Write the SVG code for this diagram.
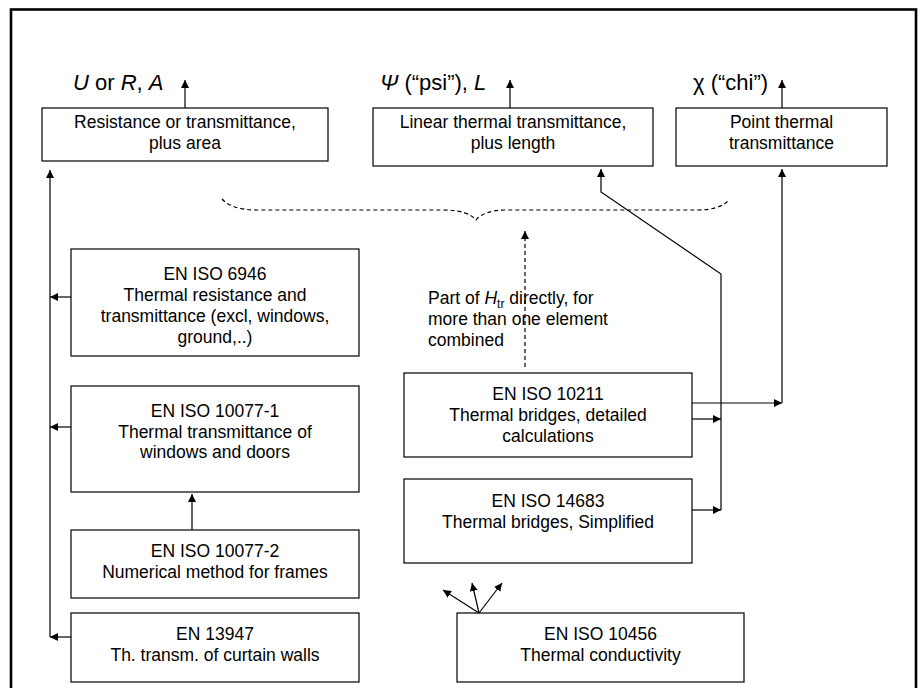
<svg xmlns="http://www.w3.org/2000/svg" width="922" height="688" viewBox="0 0 922 688">
<style>
.box{fill:#fff;stroke:#000;stroke-width:1.2}
.t{font-family:"Liberation Sans",Arial,sans-serif;font-size:17.5px;fill:#000;text-anchor:middle}
.lab{font-family:"Liberation Sans",Arial,sans-serif;font-size:22px;fill:#000}
.c{fill:none;stroke:#000;stroke-width:1.2}
.d{fill:none;stroke:#000;stroke-width:1.2;stroke-dasharray:4 3}
</style>
<defs>
<marker id="ah" markerUnits="userSpaceOnUse" markerWidth="10" markerHeight="8" refX="8" refY="4" orient="auto">
<path d="M0,0 L8,4 L0,8 Z" fill="#000"/>
</marker>
</defs>
<rect x="11" y="9.5" width="905" height="700" fill="#fff" stroke="#000" stroke-width="2.6"/>

<g id="labels">
<text class="lab" x="73" y="90"><tspan font-style="italic">U</tspan> or <tspan font-style="italic">R</tspan>, <tspan font-style="italic">A</tspan></text>
<text class="lab" x="380" y="90"><tspan font-style="italic">Ψ</tspan> (“psi”), <tspan font-style="italic">L</tspan></text>
<text class="lab" x="693" y="90">χ (“chi”)</text>
</g>

<g id="n_resistance">
<rect class="box" x="42" y="108" width="286" height="53"/>
<text class="t" x="185" y="128">Resistance or transmittance,</text>
<text class="t" x="185" y="149">plus area</text>
</g>
<g id="n_linear">
<rect class="box" x="373" y="108" width="280" height="58"/>
<text class="t" x="513" y="128">Linear thermal transmittance,</text>
<text class="t" x="513" y="149">plus length</text>
</g>
<g id="n_point">
<rect class="box" x="676" y="108" width="211" height="58"/>
<text class="t" x="781.5" y="128">Point thermal</text>
<text class="t" x="781.5" y="149">transmittance</text>
</g>

<g id="n_6946">
<rect class="box" x="71" y="249" width="288" height="107"/>
<text class="t" x="215" y="280">EN ISO 6946</text>
<text class="t" x="215" y="301">Thermal resistance and</text>
<text class="t" x="215" y="322">transmittance (excl, windows,</text>
<text class="t" x="215" y="343">ground,..)</text>
</g>
<g id="n_10077_1">
<rect class="box" x="71" y="386" width="288" height="106"/>
<text class="t" x="215" y="417">EN ISO 10077-1</text>
<text class="t" x="215" y="437.5">Thermal transmittance of</text>
<text class="t" x="215" y="458">windows and doors</text>
</g>
<g id="n_10077_2">
<rect class="box" x="71" y="530" width="288" height="68"/>
<text class="t" x="215" y="557">EN ISO 10077-2</text>
<text class="t" x="215" y="578">Numerical method for frames</text>
</g>
<g id="n_13947">
<rect class="box" x="71" y="613" width="288" height="69"/>
<text class="t" x="215" y="640">EN 13947</text>
<text class="t" x="215" y="661">Th. transm. of curtain walls</text>
</g>

<g id="n_10211">
<rect class="box" x="404" y="373" width="288" height="84"/>
<text class="t" x="548" y="400">EN ISO 10211</text>
<text class="t" x="548" y="421">Thermal bridges, detailed</text>
<text class="t" x="548" y="442">calculations</text>
</g>
<g id="n_14683">
<rect class="box" x="404" y="479" width="288" height="84"/>
<text class="t" x="548" y="507">EN ISO 14683</text>
<text class="t" x="548" y="528">Thermal bridges, Simplified</text>
</g>
<g id="n_10456">
<rect class="box" x="457" y="613" width="287" height="69"/>
<text class="t" x="600.5" y="640">EN ISO 10456</text>
<text class="t" x="600.5" y="661">Thermal conductivity</text>
</g>

<g id="note">
<text class="t" style="text-anchor:start" x="428" y="304">Part of <tspan font-style="italic">H</tspan><tspan font-size="12" dy="4">tr</tspan><tspan dy="-4"> directly, for</tspan></text>
<text class="t" style="text-anchor:start" x="428" y="325">more than one element</text>
<text class="t" style="text-anchor:start" x="428" y="345.5">combined</text>
</g>

<g id="connectors">
<line class="c" x1="185" y1="108" x2="185" y2="80" marker-end="url(#ah)"/>
<line class="c" x1="510" y1="108" x2="510" y2="80" marker-end="url(#ah)"/>
<line class="c" x1="782" y1="108" x2="782" y2="80" marker-end="url(#ah)"/>
<line class="c" x1="50" y1="637" x2="50" y2="170" marker-end="url(#ah)"/>
<line class="c" x1="71" y1="297" x2="50" y2="297" marker-end="url(#ah)"/>
<line class="c" x1="71" y1="427" x2="50" y2="427" marker-end="url(#ah)"/>
<line class="c" x1="71" y1="637" x2="50" y2="637" marker-end="url(#ah)"/>
<line class="c" x1="192" y1="530" x2="192" y2="494" marker-end="url(#ah)"/>
<line class="c" x1="692" y1="403" x2="782" y2="403" marker-end="url(#ah)"/>
<line class="c" x1="782" y1="403" x2="782" y2="169" marker-end="url(#ah)"/>
<line class="c" x1="692" y1="419" x2="721" y2="419" marker-end="url(#ah)"/>
<line class="c" x1="692" y1="510" x2="721" y2="510" marker-end="url(#ah)"/>
<path class="c" d="M721,510 L721,274 L601,192 L601,169" marker-end="url(#ah)"/>
<line class="d" x1="525" y1="367" x2="525" y2="231" marker-end="url(#ah)"/>
<line class="c" x1="479" y1="613" x2="443" y2="590" marker-end="url(#ah)"/>
<line class="c" x1="479" y1="613" x2="472" y2="583" marker-end="url(#ah)"/>
<line class="c" x1="479" y1="613" x2="502" y2="583" marker-end="url(#ah)"/>
<path class="d" d="M222,199 Q232,210 257,210 L443,210 Q468,210 476,220 Q484,210 507,210 L697,210 Q720,210 729,200"/>
</g>
</svg>
